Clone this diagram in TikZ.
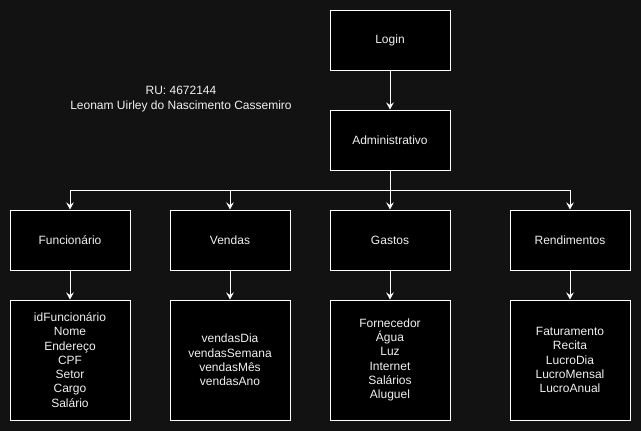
\documentclass[tikz,border=0pt]{standalone}
\usepackage{fontspec}
\setmainfont{Liberation Sans}
\usetikzlibrary{arrows.meta}
\definecolor{bg}{HTML}{121212}
\definecolor{fg}{HTML}{F0F0F0}
\begin{document}
\begin{tikzpicture}[x=1pt,y=-1pt,
  box/.style={draw=white, line width=1pt, fill=black, text=fg, minimum width=120pt, inner sep=0pt, font=\fontsize{12pt}{14.3pt}\selectfont, align=center},
  smallbox/.style={box, minimum height=60pt},
  bigbox/.style={box, minimum height=120pt},
  conn/.style={draw=white, line width=1pt, -{Stealth[length=7pt,width=7.5pt,inset=2.5pt]}},
  line/.style={draw=white, line width=1pt}
]
\fill[bg] (0,0) rectangle (641,431);
\useasboundingbox (0,0) rectangle (641,431);

\node[smallbox] (login) at (390,40) {Login};
\node[smallbox] (admin) at (390,140) {Administrativo};

\node[smallbox] (func) at (70,240) {Funcionário};
\node[smallbox] (vend) at (230,240) {Vendas};
\node[smallbox] (gast) at (390,240) {Gastos};
\node[smallbox] (rend) at (570,240) {Rendimentos};

\node[bigbox] (funcd) at (70,360) {idFuncionário\\Nome\\Endereço\\CPF\\Setor\\Cargo\\Salário};
\node[bigbox] (vendd) at (230,360) {vendasDia\\vendasSemana\\vendasMês\\vendasAno};
\node[bigbox] (gastd) at (390,360) {Fornecedor\\Água\\Luz\\Internet\\Salários\\Aluguel};
\node[bigbox] (rendd) at (570,360) {Faturamento\\Recita\\LucroDia\\LucroMensal\\LucroAnual};

\node[text=fg, align=center, font=\fontsize{12pt}{14.3pt}\selectfont] (ru) at (181,99) {RU: 4672144\\Leonam Uirley do Nascimento Cassemiro};

\coordinate (bus) at (390,190);
\draw[line] (admin.south) -- (bus);
\draw[conn] (login) -- (admin);
\draw[conn] (bus) -| (func.north);
\draw[conn] (bus) -| (vend.north);
\draw[conn] (bus) -- (gast.north);
\draw[conn] (bus) -| (rend.north);

\draw[conn] (func) -- (funcd);
\draw[conn] (vend) -- (vendd);
\draw[conn] (gast) -- (gastd);
\draw[conn] (rend) -- (rendd);
\end{tikzpicture}
\end{document}
